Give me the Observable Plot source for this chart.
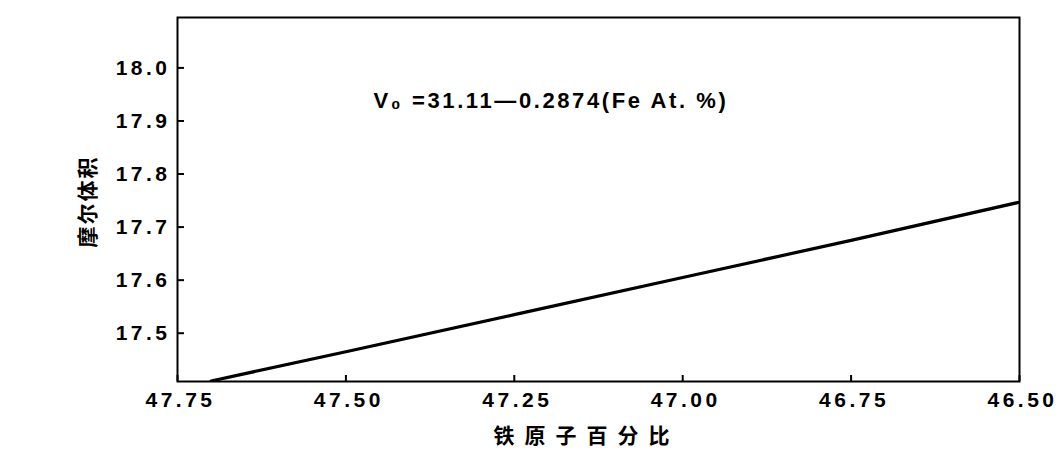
<!DOCTYPE html>
<html>
<head>
<meta charset="utf-8">
<script src="https://cdn.jsdelivr.net/npm/d3@7"></script>
<script src="https://cdn.jsdelivr.net/npm/@observablehq/plot@0.6"></script>
<style>
  html, body { margin: 0; padding: 0; background: #fff; }
  g[aria-label="x-axis tick label"] text,
  g[aria-label="y-axis tick label"] text { letter-spacing: 3.5px; }
</style>
</head>
<body>
<div id="chart"></div>
<script>
// Fe atomic percent (x) and molar volume V0 (y)
const feAt = [47.70, 47.50, 47.25, 47.00, 46.75, 46.50];
const molarVolume = [17.41, 17.465, 17.535, 17.605, 17.675, 17.747];
const xTicks = [47.75, 47.50, 47.25, 47.00, 46.75, 46.50];
const yTicks = [17.5, 17.6, 17.7, 17.8, 17.9, 18.0];
const xDomain = [46.50, 47.75];
const yDomain = [17.409, 18.095];
const xTitle = "铁原子百分比";
const yTitle = "摩尔体积";
const equation = "V₀ =31.11—0.2874(Fe At. %)";
const equationPos = {x: 47.459, y: 17.938};

const data = feAt.map((x, i) => ({x, y: molarVolume[i]}));
const W = 1058, H = 451;
const mL = 177, mR = 39, mT = 17, mB = 70;
const frameW = W - mL - mR, frameH = H - mT - mB;
const font = "'Liberation Sans', Arial, sans-serif";
const cjk = "'Noto Sans CJK SC', sans-serif";

const chart = Plot.plot({
  width: W,
  height: H,
  marginLeft: mL,
  marginRight: mR,
  marginTop: mT,
  marginBottom: mB,
  style: {fontFamily: font, background: "#fff", color: "#000"},
  x: {domain: xDomain, reverse: true},
  y: {domain: yDomain},
  marks: [
    Plot.axisX(xTicks, {tickSize: 0, tickPadding: 11, tickFormat: d3.format(".2f"), fontSize: 21, fontWeight: "bold", label: null, dx: 3}),
    Plot.axisY(yTicks, {tickSize: 0, tickPadding: 7, tickFormat: d3.format(".1f"), fontSize: 21, fontWeight: "bold", label: null}),
    Plot.ruleX(xTicks, {x: d => d, insetTop: frameH - 6, stroke: "#000", strokeWidth: 2}),
    Plot.ruleY(yTicks, {y: d => d, insetRight: frameW - 7, stroke: "#000", strokeWidth: 2}),
    Plot.line(data, {x: "x", y: "y", stroke: "#000", strokeWidth: 3.2, clip: true}),
    Plot.frame({stroke: "#000", strokeWidth: 2}),
    Plot.text([equation], {x: equationPos.x, y: equationPos.y, text: d => d, textAnchor: "start", fontSize: 22, fontWeight: "bold", fill: "#000"}),
    Plot.text([xTitle], {frameAnchor: "bottom", textAnchor: "middle", text: d => d, dy: 61, dx: -12, fontSize: 21, fontWeight: "bold", fill: "#000", fontFamily: cjk}),
    Plot.text([yTitle], {frameAnchor: "left", textAnchor: "middle", text: d => d, dx: -89, dy: 2, rotate: -90, fontSize: 21, fontWeight: "bold", fill: "#000", fontFamily: cjk})
  ]
});
document.getElementById("chart").appendChild(chart);
const sel = d3.select(chart).selectAll("text");
sel.filter(function() { return this.textContent === xTitle; }).style("letter-spacing", "10px");
sel.filter(function() { return this.textContent === yTitle; }).style("letter-spacing", "2px");
sel.filter(function() { return this.textContent === equation; }).style("letter-spacing", "2.6px");
</script>
</body>
</html>
